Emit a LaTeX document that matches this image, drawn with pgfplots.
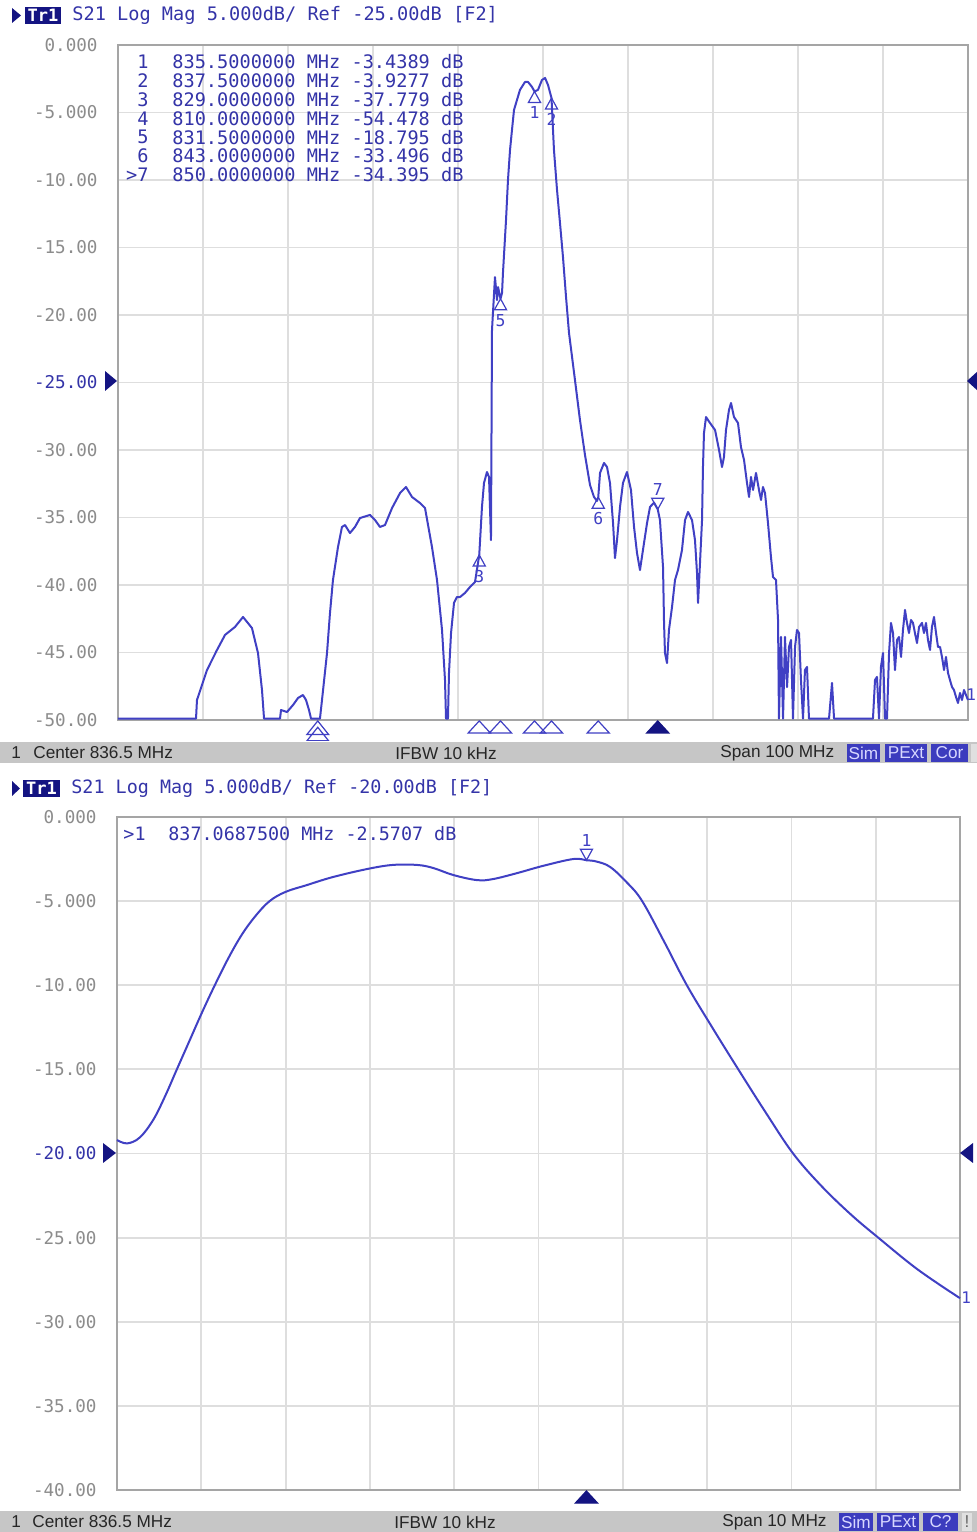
\documentclass[border=0pt]{standalone}
\usepackage{pgfplots}
\pgfplotsset{compat=1.18}
\usepackage{fontspec}
\setmainfont{DejaVu Sans}
\newfontfamily\mono{DejaVu Sans Mono}
\newfontfamily\stat{Liberation Sans}
\definecolor{trace}{RGB}{64,64,196}
\definecolor{hdr}{RGB}{52,52,168}
\definecolor{navy}{RGB}{20,20,130}
\definecolor{gridc}{RGB}{222,222,222}
\definecolor{framec}{RGB}{165,165,165}
\definecolor{tickc}{RGB}{140,140,140}
\definecolor{barc}{RGB}{198,198,198}
\definecolor{boxc}{RGB}{60,60,190}
\definecolor{boxt}{RGB}{215,215,255}

\pgfdeclareplotmark{triup}{%
  \pgfpathmoveto{\pgfpointorigin}%
  \pgfpathlineto{\pgfqpoint{-0.55\pgfplotmarksize}{-\pgfplotmarksize}}%
  \pgfpathlineto{\pgfqpoint{0.55\pgfplotmarksize}{-\pgfplotmarksize}}%
  \pgfpathclose\pgfusepathqstroke}
\pgfdeclareplotmark{tridown}{%
  \pgfpathmoveto{\pgfpointorigin}%
  \pgfpathlineto{\pgfqpoint{-0.55\pgfplotmarksize}{\pgfplotmarksize}}%
  \pgfpathlineto{\pgfqpoint{0.55\pgfplotmarksize}{\pgfplotmarksize}}%
  \pgfpathclose\pgfusepathqstroke}
\pgfdeclareplotmark{wideup}{%
  \pgfpathmoveto{\pgfpointorigin}%
  \pgfpathlineto{\pgfqpoint{-0.92\pgfplotmarksize}{-\pgfplotmarksize}}%
  \pgfpathlineto{\pgfqpoint{0.92\pgfplotmarksize}{-\pgfplotmarksize}}%
  \pgfpathclose\pgfusepathqstroke}
\pgfdeclareplotmark{wideupfill}{%
  \pgfpathmoveto{\pgfpointorigin}%
  \pgfpathlineto{\pgfqpoint{-0.92\pgfplotmarksize}{-\pgfplotmarksize}}%
  \pgfpathlineto{\pgfqpoint{0.92\pgfplotmarksize}{-\pgfplotmarksize}}%
  \pgfpathclose\pgfusepathqfillstroke}
\pgfdeclareplotmark{mfour}{%
  \pgfpathmoveto{\pgfpointorigin}%
  \pgfpathlineto{\pgfqpoint{-0.6\pgfplotmarksize}{-0.75\pgfplotmarksize}}%
  \pgfpathlineto{\pgfqpoint{0.6\pgfplotmarksize}{-0.75\pgfplotmarksize}}%
  \pgfpathclose
  \pgfpathmoveto{\pgfqpoint{0pt}{-0.35\pgfplotmarksize}}%
  \pgfpathlineto{\pgfqpoint{-0.6\pgfplotmarksize}{-1.1\pgfplotmarksize}}%
  \pgfpathlineto{\pgfqpoint{0.6\pgfplotmarksize}{-1.1\pgfplotmarksize}}%
  \pgfpathclose
  \pgfpathrectangle{\pgfqpoint{-0.3\pgfplotmarksize}{-1.1\pgfplotmarksize}}{\pgfqpoint{0.6\pgfplotmarksize}{-0.4\pgfplotmarksize}}%
  \pgfusepathqstroke}

\tikzset{numlab/.style={font=\mono\fontsize{8.2}{9}\selectfont, text=trace, inner sep=0pt}}
\pgfplotsset{
  vna/.style={
    scale only axis,
    anchor=south west,
    axis line style={draw=framec, line width=0.9pt},
    grid=major,
    major grid style={draw=gridc, line width=0.9pt},
    major tick length=0pt,
    xticklabels={},
    yticklabel style={font=\mono\fontsize{8.8}{10}\selectfont, text=tickc, anchor=east, inner sep=0pt, xshift=-10pt},
    clip=false,
  },
}

\begin{document}
\begin{tikzpicture}
\path[use as bounding box, fill=white] (0,0) rectangle (488.5pt,766pt);

% ---------------- top panel ----------------
\begin{axis}[vna, at={(59pt,406pt)}, width=425pt, height=337.5pt,
  xmin=786.5, xmax=886.5, ymin=-50, ymax=0,
  xtick={796.5,806.5,816.5,826.5,836.5,846.5,856.5,866.5,876.5},
  ytick={-50,-45,-40,-35,-30,-25,-20,-15,-10,-5,0},
  yticklabels={-50.00,-45.00,-40.00,-35.00,-30.00,\textcolor{hdr}{-25.00},-20.00,-15.00,-10.00,-5.000,0.000},
]
\addplot[trace, line width=1pt, line join=round] coordinates {
(786.5,-49.9) (795.68,-49.9) (795.79,-48.52) (796.97,-46.30) (798.15,-44.81) (799.09,-43.70) (800.26,-43.11) (801.21,-42.37) (802.26,-43.19) (802.97,-45.04) (803.44,-47.78) (803.68,-49.9) (805.56,-49.9) (805.68,-49.26) (806.38,-49.41) (807.09,-48.89) (807.68,-48.37) (808.26,-48.15) (808.62,-48.52) (808.97,-49.26) (809.21,-49.9) (810.26,-49.9) (810.5,-48.52) (811.09,-45.04) (811.44,-42.07) (811.79,-39.63) (812.38,-37.19) (812.85,-35.70) (813.21,-35.56) (813.79,-36.15) (814.38,-35.70) (814.97,-35.04) (816.15,-34.81) (816.74,-35.19) (817.32,-35.70) (817.91,-35.56) (818.74,-34.30) (819.68,-33.19) (820.38,-32.74) (821.09,-33.48) (822.03,-33.93) (822.62,-34.30) (823.44,-37.19) (824.03,-39.63) (824.62,-43.33) (824.97,-47.04) (825.09,-49.9) (825.32,-49.9) (825.44,-46.52) (825.68,-43.56) (826.03,-41.33) (826.38,-40.89) (826.74,-40.89) (827.32,-40.59) (827.91,-40.15) (828.5,-39.78) (829.0,-37.78) (829.32,-34.22) (829.56,-32.44) (829.91,-31.63) (830.15,-32.0) (830.38,-36.67) (830.5,-21.11) (830.85,-17.19) (831.09,-18.89) (831.21,-17.93) (831.5,-18.80) (831.68,-18.37) (831.79,-16.89) (832.15,-12.96) (832.38,-10.0) (832.62,-7.78) (832.85,-6.30) (833.09,-4.81) (833.44,-4.07) (833.79,-3.33) (834.38,-2.74) (834.74,-2.74) (835.21,-3.11) (835.5,-3.44) (835.91,-3.33) (836.38,-2.59) (836.74,-2.44) (837.09,-2.96) (837.5,-3.93) (837.79,-7.78) (838.15,-10.74) (838.5,-13.19) (838.85,-15.70) (839.21,-18.67) (839.56,-21.33) (840.26,-24.81) (840.85,-27.78) (841.44,-30.37) (842.03,-32.59) (842.5,-33.48) (842.85,-33.78) (843.0,-33.50) (843.21,-31.70) (843.68,-30.96) (844.03,-31.26) (844.38,-32.44) (844.74,-35.41) (844.97,-38.0) (845.21,-36.67) (845.56,-34.22) (845.91,-32.44) (846.38,-31.63) (846.85,-32.96) (847.21,-35.70) (847.56,-37.63) (847.91,-38.89) (848.26,-37.41) (848.74,-35.41) (849.09,-34.22) (849.56,-33.9) (850.0,-34.40) (850.26,-35.19) (850.62,-38.67) (850.74,-42.81) (850.85,-45.04) (851.09,-45.78) (851.32,-43.33) (851.68,-41.63) (852.03,-39.63) (852.38,-38.89) (852.85,-37.41) (853.21,-35.19) (853.56,-34.59) (854.03,-35.19) (854.38,-36.67) (854.62,-39.11) (854.74,-41.33) (854.97,-38.37) (855.21,-35.19) (855.32,-31.26) (855.44,-28.74) (855.68,-27.56) (856.15,-28.0) (856.74,-28.52) (857.21,-30.0) (857.56,-31.26) (857.79,-30.52) (858.03,-28.52) (858.38,-27.04) (858.62,-26.52) (858.97,-27.56) (859.44,-28.0) (859.79,-29.78) (860.15,-30.74) (860.5,-32.44) (860.74,-33.48) (860.97,-32.0) (861.21,-32.96) (861.56,-31.70) (861.91,-32.96) (862.15,-33.70) (862.38,-32.74) (862.62,-33.19) (862.97,-35.41) (863.32,-37.93) (863.56,-39.41) (863.91,-39.63) (864.15,-42.59) (864.26,-49.9) (864.5,-43.85) (864.74,-49.9) (864.97,-43.85) (865.21,-47.56) (865.44,-44.59) (865.68,-44.07) (865.91,-49.9) (866.15,-44.59) (866.38,-43.33) (866.62,-43.56) (866.85,-47.04) (867.09,-49.9) (867.32,-46.30) (867.56,-46.07) (867.79,-49.9) (870.15,-49.9) (870.5,-47.26) (870.74,-49.9) (875.32,-49.9) (875.56,-47.04) (875.79,-46.81) (876.03,-49.9) (876.26,-46.07) (876.5,-45.04) (876.74,-49.9) (876.97,-49.9) (877.21,-45.04) (877.44,-42.81) (877.68,-43.56) (877.91,-46.30) (878.15,-44.07) (878.38,-43.85) (878.62,-45.33) (878.85,-43.33) (879.09,-41.85) (879.32,-42.81) (879.56,-43.56) (879.79,-42.59) (880.03,-42.81) (880.26,-43.56) (880.5,-44.30) (880.74,-43.11) (881.09,-42.81) (881.32,-43.56) (881.56,-42.81) (881.79,-44.07) (882.03,-44.81) (882.26,-43.11) (882.5,-42.37) (882.74,-43.56) (882.97,-44.59) (883.21,-44.59) (883.44,-45.33) (883.68,-46.30) (883.91,-45.33) (884.15,-46.52) (884.38,-47.04) (884.62,-47.56) (884.85,-47.78) (885.09,-48.30) (885.32,-48.74) (885.56,-48.0) (885.79,-48.52) (886.03,-47.78) (886.5,-48.52)
};
% markers on trace (apex at the marker point, number below)
\addplot[only marks, mark=triup, mark size=5.5pt, trace, line width=0.6pt,
  point meta=explicit symbolic, nodes near coords,
  nodes near coords style={numlab, anchor=north, yshift=-7.5pt}]
  table[meta=lab] {
x y lab
829.0 -37.779 3
831.5 -18.795 5
835.5 -3.4389 1
837.5 -3.9277 2
843.0 -33.496 6
};
% active marker 7
\addplot[only marks, mark=tridown, mark size=5.5pt, trace, line width=0.6pt,
  point meta=explicit symbolic, nodes near coords,
  nodes near coords style={numlab, anchor=south, yshift=6.5pt}]
  table[meta=lab] {
x y lab
850.0 -34.395 7
};
% marker positions below the axis
\addplot[only marks, mark=wideup, mark size=6pt, trace, line width=0.6pt] coordinates {
(829.0,-50.07) (831.5,-50.07) (835.5,-50.07) (837.5,-50.07) (843.0,-50.07)};
\addplot[only marks, mark=wideupfill, mark size=6pt, navy, line width=0.6pt] coordinates {(850.0,-50.07)};
\addplot[only marks, mark=mfour, mark size=9pt, trace, line width=0.6pt] coordinates {(810.0,-50.07)};
\end{axis}

% ---------------- bottom panel ----------------
\begin{axis}[vna, at={(58.5pt,21pt)}, width=421.5pt, height=336.5pt,
  xmin=831.5, xmax=841.5, ymin=-40, ymax=0,
  xtick={832.5,833.5,834.5,835.5,836.5,837.5,838.5,839.5,840.5},
  ytick={-40,-35,-30,-25,-20,-15,-10,-5,0},
  yticklabels={-40.00,-35.00,-30.00,-25.00,\textcolor{hdr}{-20.00},-15.00,-10.00,-5.000,0.000},
]
\addplot[trace, line width=1pt, smooth, tension=0.6] coordinates {
(831.5,-19.2) (831.62,-19.4) (831.77,-19.05) (831.93,-18.0) (832.07,-16.6) (832.21,-15.0) (832.36,-13.3) (832.51,-11.6) (832.66,-10.0) (832.82,-8.4) (832.98,-7.0) (833.14,-5.9) (833.31,-5.0) (833.5,-4.45) (833.75,-4.05) (834.06,-3.57) (834.47,-3.09) (834.77,-2.85) (835.06,-2.85) (835.25,-3.03) (835.49,-3.45) (835.77,-3.75) (835.96,-3.69) (836.25,-3.33) (836.55,-2.91) (836.91,-2.50) (837.07,-2.57) (837.19,-2.65) (837.35,-2.97) (837.55,-3.9) (837.73,-5.0) (838.0,-7.5) (838.26,-10.0) (838.56,-12.5) (838.87,-15.0) (839.2,-17.6) (839.52,-20.0) (839.85,-21.9) (840.2,-23.6) (840.53,-25.0) (841.0,-26.9) (841.5,-28.6)
};
\addplot[only marks, mark=tridown, mark size=5.5pt, trace, line width=0.6pt,
  point meta=explicit symbolic, nodes near coords,
  nodes near coords style={numlab, anchor=south, yshift=6.5pt}]
  table[meta=lab] {
x y lab
837.0688 -2.5707 1
};
\addplot[only marks, mark=wideupfill, mark size=6pt, navy, line width=0.6pt] coordinates {(837.0688,-40.06)};
\end{axis}

% ---------------- annotations in pixel coordinates ----------------
\begin{scope}[shift={(0pt,766pt)}, x=0.5pt, y=-0.5pt]
  % header 1
  \fill[navy] (12,8) -- (21,15.5) -- (12,23) -- cycle;
  \fill[navy] (25,7) rectangle (61,24);
  \node[anchor=center, inner sep=0pt, text=white, font=\mono\bfseries\fontsize{8.5}{9}\selectfont] at (43,15.5) {Tr1};
  \node[anchor=west, inner sep=0pt, text=hdr, font=\mono\fontsize{9.3}{11}\selectfont] at (72,15.5) {S21 Log Mag 5.000dB/ Ref -25.00dB [F2]};
  % marker table 1
  \foreach \yy/\nn/\vv in {62/1/835.5000000 MHz -3.4389 dB,
                           80.8/2/837.5000000 MHz -3.9277 dB,
                           99.6/3/829.0000000 MHz -37.779 dB,
                           118.4/4/810.0000000 MHz -54.478 dB,
                           137.2/5/831.5000000 MHz -18.795 dB,
                           156/6/843.0000000 MHz -33.496 dB,
                           174.8/>7/850.0000000 MHz -34.395 dB} {
    \node[anchor=east, inner sep=0pt, text=hdr, font=\mono\fontsize{9.3}{11}\selectfont] at (149,\yy) {\nn};
    \node[anchor=west, inner sep=0pt, text=hdr, font=\mono\fontsize{9.3}{11}\selectfont] at (172,\yy) {\vv};
  }
  % reference triangles
  \fill[navy] (105,371) -- (117,381) -- (105,391) -- cycle;
  \fill[navy] (978,371) -- (967,381) -- (978,391) -- cycle;
  \node[anchor=west, inner sep=0pt, text=trace, font=\mono\fontsize{8}{9}\selectfont] at (966,695) {1};
  % status bar 1
  \fill[barc] (0,742) rectangle (977,763);
  \draw[white, line width=0.5pt] (0,741.5) -- (977,741.5);
  \begin{scope}[every node/.style={anchor=west, inner sep=0pt, text=black!85, font=\stat\fontsize{8.6}{10}\selectfont}]
    \node at (11,753) {1};
    \node at (33,753) {Center 836.5 MHz};
    \node at (395,753) {IFBW 10 kHz};
    \node at (720,753) {Span 100 MHz};
  \end{scope}
  \fill[boxc] (847,744) rectangle (880,762);
  \fill[boxc] (885,744) rectangle (927,762);
  \fill[boxc] (931,744) rectangle (968,762);
  \fill[black!12] (971,744) rectangle (977,762);
  \begin{scope}[every node/.style={anchor=center, inner sep=0pt, text=boxt, font=\stat\fontsize{8.6}{10}\selectfont}]
    \node at (863.5,753) {Sim};
    \node at (906,753) {PExt};
    \node at (949.5,753) {Cor};
  \end{scope}

  % header 2
  \fill[navy] (12,781) -- (20,788.5) -- (12,796) -- cycle;
  \fill[navy] (23,780) rectangle (60,797);
  \node[anchor=center, inner sep=0pt, text=white, font=\mono\bfseries\fontsize{8.5}{9}\selectfont] at (41.5,788.5) {Tr1};
  \node[anchor=west, inner sep=0pt, text=hdr, font=\mono\fontsize{9.2}{11}\selectfont] at (71,788.5) {S21 Log Mag 5.000dB/ Ref -20.00dB [F2]};
  \node[anchor=east, inner sep=0pt, text=hdr, font=\mono\fontsize{9.2}{11}\selectfont] at (146,834) {>1};
  \node[anchor=west, inner sep=0pt, text=hdr, font=\mono\fontsize{9.2}{11}\selectfont] at (168,834) {837.0687500 MHz -2.5707 dB};
  \fill[navy] (103,1143) -- (116,1153) -- (103,1163) -- cycle;
  \fill[navy] (973,1143) -- (960,1153) -- (973,1163) -- cycle;
  \node[anchor=west, inner sep=0pt, text=trace, font=\mono\fontsize{8}{9}\selectfont] at (961,1298) {1};
  % status bar 2
  \fill[barc] (0,1511) rectangle (977,1532);
  \begin{scope}[every node/.style={anchor=west, inner sep=0pt, text=black!85, font=\stat\fontsize{8.6}{10}\selectfont}]
    \node at (11,1522) {1};
    \node at (32,1522) {Center 836.5 MHz};
    \node at (394,1522) {IFBW 10 kHz};
    \node at (722,1522) {Span 10 MHz};
  \end{scope}
  \fill[boxc] (839,1513) rectangle (873,1531);
  \fill[boxc] (877,1513) rectangle (919,1531);
  \fill[boxc] (923,1513) rectangle (958,1531);
  \fill[black!12] (962,1513) rectangle (972,1531);
  \begin{scope}[every node/.style={anchor=center, inner sep=0pt, text=boxt, font=\stat\fontsize{8.6}{10}\selectfont}]
    \node at (856,1522) {Sim};
    \node at (898,1522) {PExt};
    \node at (940.5,1522) {C?};
    \node[text=black!60] at (967,1522) {!};
  \end{scope}
\end{scope}
\end{tikzpicture}
\end{document}
